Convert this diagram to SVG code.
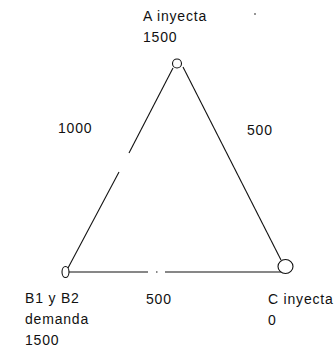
<svg xmlns="http://www.w3.org/2000/svg" width="336" height="353" viewBox="0 0 336 353">
<style>
text{font-family:"Liberation Sans",Arial,sans-serif;font-size:14px;letter-spacing:0.8px;fill:#111}
.e{stroke:#111;stroke-width:1.1;fill:none}
.n{stroke:#111;stroke-width:1.1;fill:#fff}
</style>
<rect width="336" height="353" fill="#fff"/>
<g id="connectors">
<line class="e" x1="173" y1="68" x2="129" y2="153"/>
<line class="e" x1="119" y1="172" x2="68" y2="268"/>
<line class="e" x1="183" y1="67" x2="281" y2="260"/>
<line class="e" x1="69" y1="272" x2="148" y2="272"/>
<line class="e" x1="156" y1="272" x2="157.5" y2="272"/>
<line class="e" x1="165" y1="272" x2="285" y2="272"/>
</g>
<g id="nodeA">
<circle class="n" cx="177" cy="63.5" r="4.5"/>
<text x="143" y="21">A inyecta</text>
<text x="143" y="42">1500</text>
</g>
<g id="nodeB">
<ellipse class="n" cx="65.5" cy="272" rx="3.5" ry="5.5"/>
<text x="25" y="303">B1 y B2</text>
<text x="25" y="324">demanda</text>
<text x="25" y="345">1500</text>
</g>
<g id="nodeC">
<ellipse class="n" cx="285.5" cy="266.5" rx="7.5" ry="7"/>
<text x="268" y="304">C inyecta</text>
<text x="268" y="325">0</text>
</g>
<g id="labels">
<text x="58" y="133">1000</text>
<text x="247" y="135">500</text>
<text x="146" y="304">500</text>
<circle cx="255" cy="14" r="0.8" fill="#111"/>
</g>
</svg>
